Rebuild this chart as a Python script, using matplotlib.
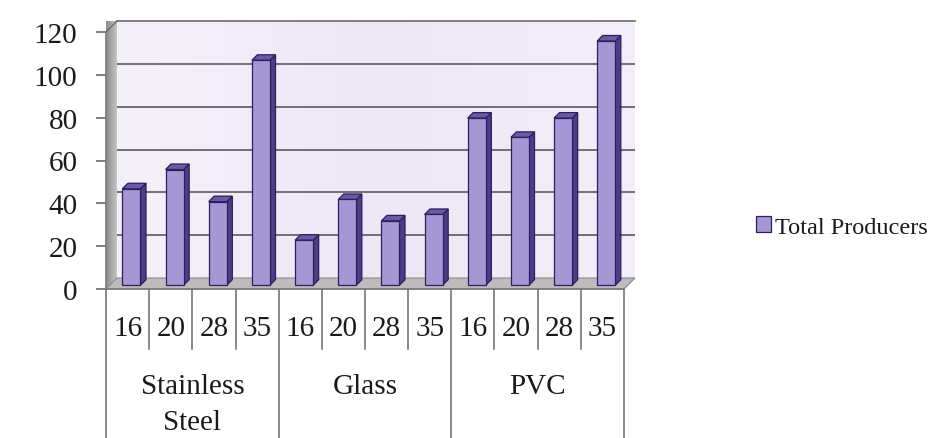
import numpy as np
import matplotlib
matplotlib.use("Agg")
import matplotlib.pyplot as plt
from matplotlib.patches import Polygon
from matplotlib.colors import LinearSegmentedColormap
from matplotlib import transforms

# ---- data -------------------------------------------------------------
groups = ["Stainless\nSteel", "Glass", "PVC"]
sizes = ["16", "20", "28", "35"]
stainless = [45, 54, 39, 105]
glass = [21, 40, 30, 33]
pvc = [78, 69, 78, 114]
series_name = "Total Producers"
y_ticks = [0, 20, 40, 60, 80, 100, 120]

values = np.array(stainless + glass + pvc, dtype=float)
n = len(values)
xs = np.arange(n)

plt.rcParams["font.family"] = ["Liberation Serif", "DejaVu Serif"]
LABEL_SIZE = 21
TEXT_C = "#1a1a1a"

W, H = 932, 439
fig = plt.figure(figsize=(W / 100, H / 100), dpi=100)
fig.patch.set_facecolor("white")

# axes placed so that the front plane of the 3-D box sits in it
x0_px, x1_px = 106, 624
y0_px, y1_px = 290, 33          # pixel rows (from top) of 0 and 120
ax = fig.add_axes([x0_px / W, (H - y0_px) / H,
                   (x1_px - x0_px) / W, (y0_px - y1_px) / H])
ax.set_xlim(-0.5, n - 0.5)
ax.set_ylim(0, 120)
ax.set_facecolor("none")

# depth of the box expressed in data units (11 px right, 11 px up)
px_per_cat = (x1_px - x0_px) / n
px_per_unit = (y0_px - y1_px) / 120
dX = 11 / px_per_cat
dY = 11 / px_per_unit

xl, xr = -0.5, n - 0.5
grad = np.linspace(0, 1, 256).reshape(1, -1)
grad = np.vstack([grad, grad])

# back wall with soft lavender gradient
wall = Polygon([(xl + dX, dY), (xr + dX, dY), (xr + dX, 120 + dY), (xl + dX, 120 + dY)],
               closed=True, facecolor="none", edgecolor="none", clip_on=False)
ax.add_patch(wall)
wall_cmap = LinearSegmentedColormap.from_list("wall", ["#f5f1fa", "#eee7f6", "#f3eef9"])
im = ax.imshow(grad, extent=(xl + dX, xr + dX, dY, 120 + dY), cmap=wall_cmap,
               aspect="auto", zorder=0, clip_on=False)
im.set_clip_path(wall)

# left side wall
lwall = Polygon([(xl, 0), (xl + dX, dY), (xl + dX, 120 + dY), (xl, 120)], closed=True,
                facecolor="none", edgecolor="none", clip_on=False)
ax.add_patch(lwall)
lw_cmap = LinearSegmentedColormap.from_list("lwall", ["#8a8a8a", "#a8a8a8", "#c4c4c4"])
im2 = ax.imshow(grad, extent=(xl, xl + dX, 0, 120 + dY), cmap=lw_cmap,
                aspect="auto", zorder=0.5, clip_on=False)
im2.set_clip_path(lwall)

# floor
floor = Polygon([(xl, 0), (xr, 0), (xr + dX, dY), (xl + dX, dY)], closed=True,
                facecolor="#bcbcbc", edgecolor="#8a8a8a", linewidth=0.8,
                zorder=1, clip_on=False)
ax.add_patch(floor)

# gridlines on the back wall
for t in y_ticks[1:-1]:
    ax.plot([xl + dX, xr + dX], [t + dY, t + dY], color="#5a5a5a", lw=1.2,
            zorder=1, clip_on=False, solid_capstyle="butt")
ax.plot([xl + dX, xr + dX], [120 + dY, 120 + dY], color="#6a6a6a", lw=1.2,
        zorder=1, clip_on=False)
ax.plot([xl, xl + dX], [120, 120 + dY], color="#6a6a6a", lw=1.0, zorder=1, clip_on=False)

# 3-D columns
f_front, f_back = 0.35, 0.85
bw = 0.42
face_c = "#a697d4"
side_c = "#4d3d88"
top_c = "#6a5aa6"
edge_c = "#2b1f5e"
bx = xs + f_front * dX
bottom = f_front * dY
bars = ax.bar(bx, values, width=bw, bottom=bottom, color=face_c, edgecolor=edge_c,
              linewidth=0.9, zorder=3, label=series_name)
ddx = (f_back - f_front) * dX
ddy = (f_back - f_front) * dY
for xc, v in zip(bx, values):
    l, r = xc - bw / 2, xc + bw / 2
    top = bottom + v
    side = Polygon([(r, bottom), (r + ddx, bottom + ddy), (r + ddx, top + ddy), (r, top)],
                   closed=True, facecolor=side_c, edgecolor=edge_c, lw=0.9, zorder=2.9,
                   clip_on=False)
    cap = Polygon([(l, top), (r, top), (r + ddx, top + ddy), (l + ddx, top + ddy)],
                  closed=True, facecolor=top_c, edgecolor=edge_c, lw=0.9, zorder=2.9,
                  clip_on=False)
    ax.add_patch(side)
    ax.add_patch(cap)
for b in bars:
    b.set_clip_on(False)

# value axis
for s in ("top", "right"):
    ax.spines[s].set_visible(False)
for s in ("left", "bottom"):
    ax.spines[s].set_color("#7a7a7a")
    ax.spines[s].set_linewidth(1.2)
ax.spines["left"].set_zorder(4)
ax.set_yticks(y_ticks)
ax.set_yticklabels([str(t) for t in y_ticks])
ax.tick_params(axis="y", direction="out", length=7.5, width=1.2, color="#6a6a6a",
               pad=13, labelsize=LABEL_SIZE, labelcolor=TEXT_C)
ax.set_xticks([])

# category table under the floor
tb = transforms.blended_transform_factory(ax.transData, fig.transFigure)
short_bottom = (H - 350) / H
top_line = (H - 291) / H
for k in range(n + 1):
    xb = -0.5 + k
    y_end = 0 if k % len(sizes) == 0 else short_bottom
    ax.plot([xb, xb], [top_line, y_end], transform=tb, color="#6a6a6a", lw=1.1,
            clip_on=False)
for i in range(n):
    ax.text(i, (H - 329) / H, sizes[i % len(sizes)], transform=tb, ha="center",
            va="center", fontsize=LABEL_SIZE, color=TEXT_C)
for g, name in enumerate(groups):
    xc = g * len(sizes) + (len(sizes) - 1) / 2
    lines = name.split("\n")
    for j, line in enumerate(lines):
        ax.text(xc, (H - 387 - 36 * j) / H, line, transform=tb, ha="center",
                va="center", fontsize=LABEL_SIZE, color=TEXT_C)

# legend
leg = fig.legend(handles=[bars], labels=[series_name], loc="center left",
                 bbox_to_anchor=(756 / W, 1 - 228 / H), frameon=False,
                 fontsize=17.5, handlelength=0.6, handleheight=0.6,
                 handletextpad=0.2, borderpad=0, borderaxespad=0)
for t in leg.get_texts():
    t.set_color(TEXT_C)

fig.savefig("out.png", dpi=100)
